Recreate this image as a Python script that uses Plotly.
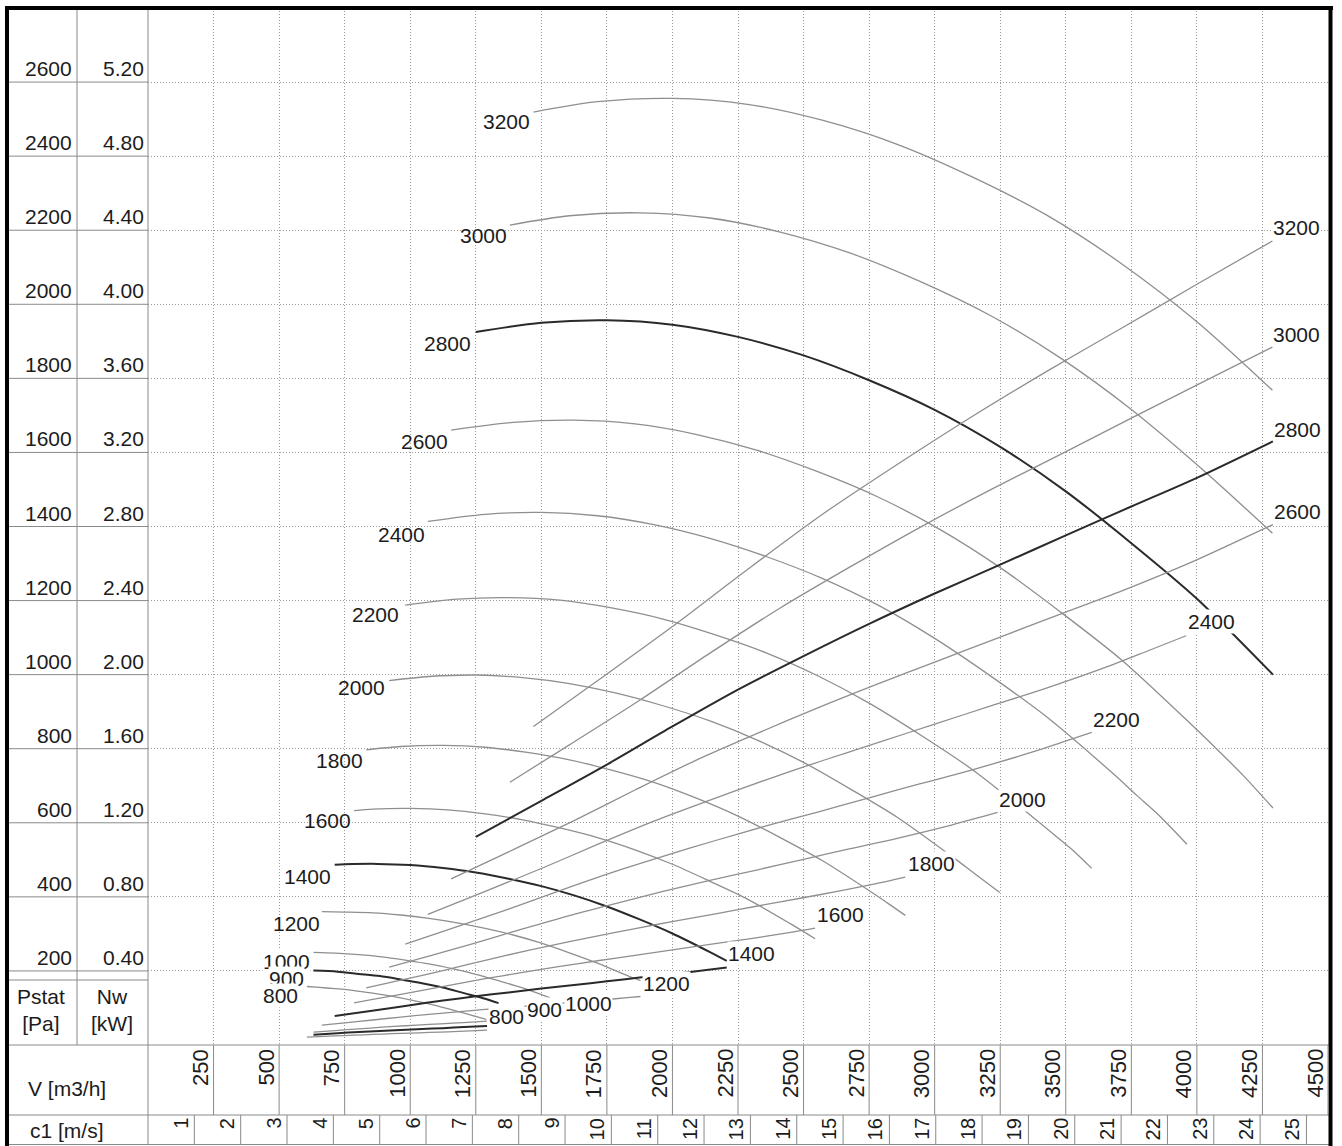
import math
import plotly.graph_objects as go

# ---------------------------------------------------------------------------
# Fan characteristic: static pressure Pstat [Pa] and shaft power Nw [kW]
# against air flow V [m3/h], one curve per speed [rpm]
# ---------------------------------------------------------------------------

# static pressure curves
v_p3200 = [1470, 1714, 2000, 2286, 2571, 2857, 3143, 3429, 3714, 4000, 4288]
p_3200 = [2519, 2547, 2556, 2540, 2497, 2432, 2344, 2240, 2109, 1953, 1768]
v_p3000 = [1380, 1607, 1875, 2143, 2411, 2679, 2946, 3214, 3482, 3750, 4018, 4288]
p_3000 = [2214, 2239, 2247, 2233, 2195, 2138, 2061, 1969, 1854, 1716, 1556, 1382]
v_p2800 = [1250, 1500, 1750, 2000, 2250, 2500, 2750, 3000, 3250, 3500, 3750, 4000, 4290]
p_2800 = [1925, 1950, 1957, 1945, 1912, 1862, 1795, 1715, 1615, 1495, 1355, 1205, 1000]
v_p2600 = [1156, 1393, 1625, 1857, 2089, 2321, 2554, 2786, 3018, 3250, 3482, 3714, 3984, 4086, 4179, 4290]
p_2600 = [1660, 1681, 1687, 1677, 1649, 1606, 1548, 1479, 1393, 1289, 1168, 1039, 862, 792, 726, 640]
v_p2400 = [1067, 1286, 1500, 1714, 1929, 2143, 2357, 2571, 2786, 3000, 3214, 3429, 3677, 3771, 3857, 3962]
p_2400 = [1414, 1433, 1438, 1429, 1405, 1368, 1319, 1260, 1187, 1098, 996, 885, 735, 674, 619, 542]
v_p2200 = [981, 1179, 1375, 1571, 1768, 1964, 2161, 2357, 2554, 2750, 2946, 3143, 3371, 3457, 3536, 3599]
p_2200 = [1188, 1204, 1208, 1201, 1180, 1150, 1108, 1059, 997, 923, 837, 744, 617, 567, 520, 477]
v_p2000 = [920, 1071, 1250, 1429, 1607, 1786, 1964, 2143, 2321, 2500, 2679, 2857, 3064, 3143, 3214, 3248]
p_2000 = [984, 995, 999, 992, 976, 950, 916, 875, 824, 763, 691, 615, 510, 468, 430, 412]
v_p1800 = [832, 964, 1125, 1286, 1446, 1607, 1768, 1929, 2089, 2250, 2411, 2571, 2758, 2829, 2888]
p_1800 = [797, 806, 809, 804, 790, 770, 742, 709, 667, 618, 560, 498, 413, 379, 350]
v_p1600 = [786, 857, 1000, 1143, 1286, 1429, 1571, 1714, 1857, 2000, 2143, 2286, 2451, 2514, 2544]
p_1600 = [633, 637, 639, 635, 624, 608, 586, 560, 527, 488, 442, 394, 327, 300, 287]
v_p1400 = [712, 750, 875, 1000, 1125, 1250, 1375, 1500, 1625, 1750, 1875, 2000, 2145, 2207]
p_1400 = [487, 488, 489, 486, 478, 466, 449, 429, 404, 374, 339, 301, 250, 227]
v_p1200 = [663, 750, 857, 964, 1071, 1179, 1286, 1393, 1500, 1607, 1714, 1839, 1878]
p_1200 = [360, 359, 357, 351, 342, 330, 315, 297, 275, 249, 221, 184, 174]
v_p1000 = [631, 714, 804, 893, 982, 1071, 1161, 1250, 1339, 1429, 1534]
p_1000 = [250, 248, 244, 238, 229, 219, 206, 191, 173, 154, 127]
v_p900 = [631, 723, 804, 884, 964, 1045, 1125, 1205, 1286, 1337]
p_900 = [201, 198, 192, 186, 177, 167, 155, 140, 125, 113]
v_p800 = [606, 643, 714, 786, 857, 929, 1000, 1071, 1143, 1226, 1290]
p_800 = [158, 156, 152, 147, 140, 132, 122, 111, 98, 82, 69]

# shaft power curves
v_n3200 = [1470, 1714, 2000, 2286, 2571, 2857, 3143, 3429, 3714, 4000, 4288]
n_3200 = [1.720, 1.967, 2.260, 2.568, 2.865, 3.135, 3.394, 3.639, 3.872, 4.108, 4.342]
v_n3000 = [1380, 1607, 1875, 2143, 2411, 2679, 2946, 3214, 3482, 3750, 4018, 4288]
n_3000 = [1.419, 1.621, 1.862, 2.116, 2.360, 2.583, 2.797, 2.999, 3.191, 3.385, 3.577, 3.769]
v_n2800 = [1250, 1500, 1750, 2000, 2250, 2500, 2750, 3000, 3250, 3500, 3750, 4000, 4290]
n_2800 = [1.124, 1.318, 1.514, 1.720, 1.919, 2.100, 2.274, 2.438, 2.594, 2.752, 2.908, 3.063, 3.260]
v_n2600 = [1156, 1393, 1625, 1857, 2089, 2321, 2554, 2786, 3018, 3250, 3482, 3714, 3984, 4132, 4290]
n_2600 = [0.897, 1.055, 1.212, 1.377, 1.537, 1.681, 1.821, 1.952, 2.077, 2.203, 2.328, 2.452, 2.610, 2.706, 2.810]
v_n2400 = [1067, 1286, 1500, 1714, 1929, 2143, 2357, 2571, 2786, 3000, 3214, 3429, 3677, 3814, 3959]
n_2400 = [0.705, 0.830, 0.953, 1.083, 1.209, 1.322, 1.432, 1.535, 1.634, 1.733, 1.831, 1.929, 2.053, 2.129, 2.210]
v_n2200 = [981, 1179, 1375, 1571, 1768, 1964, 2161, 2357, 2554, 2750, 2946, 3143, 3371, 3496, 3599]
n_2200 = [0.545, 0.639, 0.734, 0.834, 0.931, 1.019, 1.103, 1.183, 1.258, 1.335, 1.411, 1.486, 1.581, 1.640, 1.688]
v_n2000 = [920, 1071, 1250, 1429, 1607, 1786, 1964, 2143, 2321, 2500, 2679, 2857, 3064, 3179, 3240]
n_2000 = [0.420, 0.480, 0.552, 0.627, 0.699, 0.765, 0.829, 0.889, 0.945, 1.003, 1.060, 1.116, 1.188, 1.232, 1.256]
v_n1800 = [832, 964, 1125, 1286, 1446, 1607, 1768, 1929, 2089, 2250, 2411, 2571, 2758, 2888]
n_1800 = [0.308, 0.350, 0.402, 0.457, 0.510, 0.558, 0.604, 0.648, 0.689, 0.731, 0.773, 0.814, 0.866, 0.907]
v_n1600 = [786, 857, 1000, 1143, 1286, 1429, 1571, 1714, 1857, 2000, 2143, 2286, 2451, 2544]
n_1600 = [0.228, 0.246, 0.283, 0.321, 0.358, 0.392, 0.424, 0.455, 0.484, 0.514, 0.543, 0.572, 0.608, 0.631]
v_n1400 = [712, 875, 1000, 1125, 1250, 1375, 1500, 1625, 1750, 1875, 2000, 2145, 2207]
n_1400 = [0.157, 0.189, 0.215, 0.240, 0.263, 0.284, 0.305, 0.324, 0.344, 0.364, 0.383, 0.408, 0.419]
v_n1200 = [663, 750, 857, 964, 1071, 1179, 1286, 1393, 1500, 1607, 1714, 1839, 1878]
n_1200 = [0.107, 0.119, 0.135, 0.151, 0.165, 0.179, 0.192, 0.204, 0.217, 0.229, 0.241, 0.257, 0.262]
v_n1000 = [631, 714, 804, 893, 982, 1071, 1161, 1250, 1293]
n_1000 = [0.070, 0.078, 0.087, 0.096, 0.104, 0.111, 0.118, 0.125, 0.129]
v_n900 = [631, 723, 804, 884, 964, 1045, 1125, 1205, 1293]
n_900 = [0.056, 0.064, 0.070, 0.076, 0.081, 0.086, 0.091, 0.097, 0.102]
v_n800 = [606, 714, 786, 857, 929, 1000, 1071, 1143, 1293]
n_800 = [0.042, 0.049, 0.053, 0.057, 0.061, 0.064, 0.068, 0.071, 0.080]

# speed labels at the start of the pressure curves
lbl_left_rpm = ["3200", "3000", "2800", "2600", "2400", "2200", "2000", "1800", "1600", "1400", "1200", "1000", "900", "800"]
lbl_left_v = [1368, 1278, 1141, 1053, 965, 866, 813, 729, 683, 607, 565, 530, 530, 507]
lbl_left_p = [2493, 2185, 1895, 1630, 1379, 1163, 964, 767, 605, 456, 329, 226, 180, 133]

# speed labels at the end of the power curves
lbl_right_rpm = ["3200", "3000", "2800", "2600", "2400", "2200", "2000", "1800", "1600", "1400", "1200", "1000", "900", "800"]
lbl_right_v = [4381, 4381, 4382, 4382, 4056, 3694, 3335, 2986, 2642, 2302, 1976, 1678, 1511, 1366]
lbl_right_p = [2206, 1919, 1663, 1441, 1143, 880, 663, 491, 352, 247, 167, 113, 97, 76]

# axis tick values
pstat_ticks = [200, 400, 600, 800, 1000, 1200, 1400, 1600, 1800, 2000, 2200, 2400, 2600]
nw_ticks = ["0.40", "0.80", "1.20", "1.60", "2.00", "2.40", "2.80", "3.20", "3.60", "4.00", "4.40", "4.80", "5.20"]
v_ticks = [250, 500, 750, 1000, 1250, 1500, 1750, 2000, 2250, 2500, 2750, 3000, 3250,
           3500, 3750, 4000, 4250, 4500]
c1_ticks = list(range(1, 26))

V_MAX = 4500
P_MAX = 2800
NW_MAX = 5.6
OUTLET_D = 0.25  # outlet diameter [m] relating c1 to V
C1_MAX = V_MAX / (3600 * math.pi * OUTLET_D ** 2 / 4)

# ---------------------------------------------------------------------------
# page geometry (pixels) and helpers for paper coordinates
# ---------------------------------------------------------------------------
W, H = 1342, 1146
ML, MR, MT, MB = 148, 14, 8, 101
PW, PH = W - ML - MR, H - MT - MB


def px(x_pix):
    return (x_pix - ML) / PW


def py(y_pix):
    return (H - MB - y_pix) / PH


FONT = "Liberation Sans, Arial, sans-serif"
TXT = "#1c1c1c"
GRAY_LINE = "#8f8f8f"
DARK_LINE = "#2a2a2a"
TABLE = "#8a8a8a"
LBL_SIZE = 21

pressure = [
    (3200, v_p3200, p_3200), (3000, v_p3000, p_3000), (2800, v_p2800, p_2800),
    (2600, v_p2600, p_2600), (2400, v_p2400, p_2400), (2200, v_p2200, p_2200),
    (2000, v_p2000, p_2000), (1800, v_p1800, p_1800), (1600, v_p1600, p_1600),
    (1400, v_p1400, p_1400), (1200, v_p1200, p_1200), (1000, v_p1000, p_1000),
    (900, v_p900, p_900), (800, v_p800, p_800),
]
power = [
    (3200, v_n3200, n_3200), (3000, v_n3000, n_3000), (2800, v_n2800, n_2800),
    (2600, v_n2600, n_2600), (2400, v_n2400, n_2400), (2200, v_n2200, n_2200),
    (2000, v_n2000, n_2000), (1800, v_n1800, n_1800), (1600, v_n1600, n_1600),
    (1400, v_n1400, n_1400), (1200, v_n1200, n_1200), (1000, v_n1000, n_1000),
    (900, v_n900, n_900), (800, v_n800, n_800),
]
bold_speeds = {2800, 1400, 900}

fig = go.Figure()


def line_style(speed):
    if speed in bold_speeds:
        return dict(color=DARK_LINE, width=2.0, shape="spline", smoothing=0.8)
    return dict(color=GRAY_LINE, width=1.3, shape="spline", smoothing=0.8)


for speed, vv, pp in pressure:
    fig.add_trace(go.Scatter(x=vv, y=pp, mode="lines", line=line_style(speed),
                             name=f"Pstat {speed}", hoverinfo="skip"))
for speed, vv, nn in power:
    fig.add_trace(go.Scatter(x=vv, y=nn, mode="lines", line=line_style(speed),
                             yaxis="y2", name=f"Nw {speed}", hoverinfo="skip"))

# invisible trace to register the c1 axis
fig.add_trace(go.Scatter(x=[0, C1_MAX], y=[0, 0], xaxis="x2", mode="lines",
                         line=dict(width=0), hoverinfo="skip", showlegend=False))

annotations = []
shapes = []

# curve labels
for txt, vv, pp in zip(lbl_left_rpm, lbl_left_v, lbl_left_p):
    annotations.append(dict(x=vv, y=pp, xref="x", yref="y", text=txt, showarrow=False,
                            font=dict(family=FONT, size=LBL_SIZE, color=TXT),
                            xanchor="center", yanchor="middle",
                            bgcolor="white" if txt in ("1000", "900", "800") else None,
                            borderpad=0))
for txt, vv, pp in zip(lbl_right_rpm, lbl_right_v, lbl_right_p):
    annotations.append(dict(x=vv, y=pp, xref="x", yref="y", text=txt, showarrow=False,
                            font=dict(family=FONT, size=LBL_SIZE, color=TXT),
                            xanchor="center", yanchor="middle",
                            bgcolor="white", borderpad=0))

# Pstat / Nw scale in the left table
for p, nw in zip(pstat_ticks, nw_ticks):
    annotations.append(dict(x=px(74), y=p, xref="paper", yref="y", text=str(p), showarrow=False,
                            font=dict(family=FONT, size=LBL_SIZE, color=TXT),
                            xanchor="right", yanchor="bottom", yshift=0))
    annotations.append(dict(x=px(146), y=p, xref="paper", yref="y", text=nw, showarrow=False,
                            font=dict(family=FONT, size=LBL_SIZE, color=TXT),
                            xanchor="right", yanchor="bottom", yshift=0))
    shapes.append(dict(type="line", xref="paper", yref="y", x0=px(5), x1=0, y0=p, y1=p,
                       line=dict(color=TABLE, width=1)))

# V row labels
for v in v_ticks:
    annotations.append(dict(x=v, y=py(1047), xref="x", yref="paper", text=str(v), showarrow=False,
                            textangle=-90, font=dict(family=FONT, size=22, color=TXT),
                            xanchor="center", yanchor="top", xshift=-13))
    shapes.append(dict(type="line", xref="x", yref="paper", x0=v, x1=v, y0=py(1045), y1=py(1115),
                       line=dict(color=TABLE, width=1)))

# c1 row labels
for c in c1_ticks:
    annotations.append(dict(x=c, y=py(1116), xref="x2", yref="paper", text=str(c), showarrow=False,
                            textangle=-90, font=dict(family=FONT, size=20, color=TXT),
                            xanchor="center", yanchor="top", xshift=-14))
    shapes.append(dict(type="line", xref="x2", yref="paper", x0=c, x1=c, y0=py(1115), y1=py(1145),
                       line=dict(color=TABLE, width=1)))

# table headings
heads = [("Pstat<br>[Pa]", 41, 1010), ("Nw<br>[kW]", 112, 1010),
         ("V [m3/h]", 67, 1088), ("c1 [m/s]", 67, 1130)]
for txt, hx, hy in heads:
    annotations.append(dict(x=px(hx), y=py(hy), xref="paper", yref="paper", text=txt,
                            showarrow=False, font=dict(family=FONT, size=21, color=TXT),
                            xanchor="center", yanchor="middle"))

# table frame lines
shapes += [
    dict(type="line", xref="paper", yref="paper", x0=px(77), x1=px(77), y0=py(8), y1=py(1045),
         line=dict(color=TABLE, width=1)),
    dict(type="line", xref="paper", yref="paper", x0=px(148), x1=px(148), y0=py(8), y1=py(1145),
         line=dict(color=TABLE, width=1)),
    dict(type="line", xref="paper", yref="paper", x0=px(5), x1=px(148), y0=py(980), y1=py(980),
         line=dict(color=TABLE, width=1)),
    dict(type="line", xref="paper", yref="paper", x0=px(5), x1=px(1329), y0=py(1045), y1=py(1045),
         line=dict(color=TABLE, width=1)),
    dict(type="line", xref="paper", yref="paper", x0=px(5), x1=px(1329), y0=py(1115), y1=py(1115),
         line=dict(color=TABLE, width=1)),
    dict(type="line", xref="paper", yref="paper", x0=px(5), x1=px(1329), y0=py(1144.5), y1=py(1144.5),
         line=dict(color=TABLE, width=1)),
    # heavy outer border: left, top, right
    dict(type="line", xref="paper", yref="paper", x0=px(7), x1=px(7), y0=py(6), y1=py(1146),
         line=dict(color="black", width=4), layer="above"),
    dict(type="line", xref="paper", yref="paper", x0=px(5), x1=px(1333), y0=py(8), y1=py(8),
         line=dict(color="black", width=4), layer="above"),
    dict(type="line", xref="paper", yref="paper", x0=px(1330.5), x1=px(1330.5), y0=py(6), y1=py(1146),
         line=dict(color="black", width=4), layer="above"),
]

grid = dict(showgrid=True, gridcolor="#9a9a9a", gridwidth=1, griddash="1px,2px",
            zeroline=False, showticklabels=False, ticks="", showline=False)

fig.update_layout(
    width=W, height=H,
    margin=dict(l=ML, r=MR, t=MT, b=MB, autoexpand=False),
    paper_bgcolor="white", plot_bgcolor="white",
    showlegend=False,
    xaxis=dict(range=[0, V_MAX], dtick=250, tick0=0, **grid),
    yaxis=dict(range=[0, P_MAX], dtick=200, tick0=0, **grid),
    yaxis2=dict(range=[0, NW_MAX], overlaying="y", visible=False),
    xaxis2=dict(range=[0, C1_MAX], overlaying="x", visible=False),
    annotations=annotations,
    shapes=shapes,
)

fig.write_html("out.html")
